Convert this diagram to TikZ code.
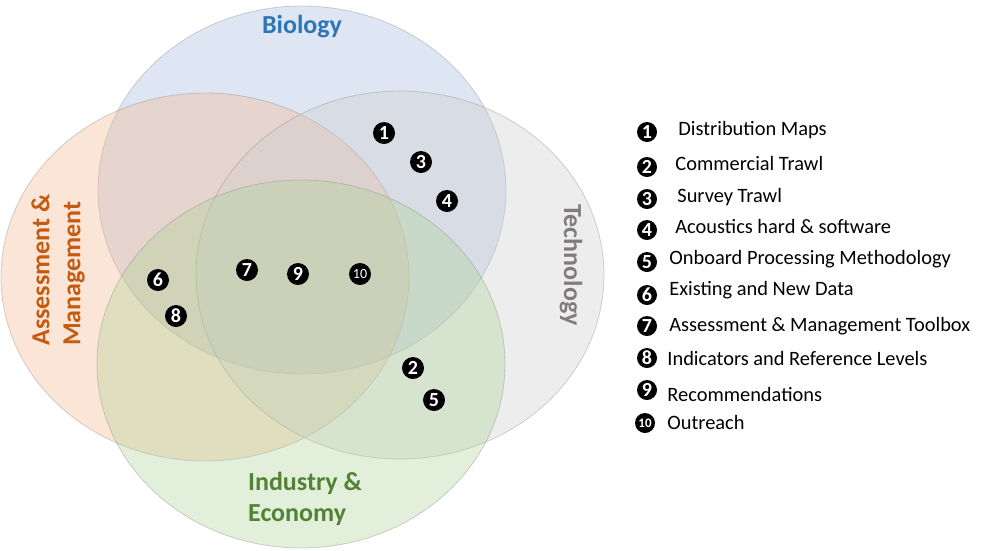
\documentclass[tikz,border=0pt]{standalone}
\usepackage{fontspec}
\setmainfont{Carlito}
\usepackage{tikz}
\usetikzlibrary{positioning, shapes.geometric}
\definecolor{BiologyBlue}{RGB}{46,117,182}
\definecolor{BiologyFill}{RGB}{161,184,221}
\definecolor{AssessOrange}{RGB}{197,90,17}
\definecolor{AssessFill}{RGB}{244,181,138}
\definecolor{TechGray}{RGB}{128,124,124}
\definecolor{TechFill}{RGB}{204,204,204}
\definecolor{IndustryGreen}{RGB}{84,130,53}
\definecolor{IndustryFill}{RGB}{172,209,149}

\begin{document}
\begin{tikzpicture}[
    x=1pt, y=-1pt,
    every node/.style={inner sep=0pt},
    set/.style={
        ellipse,
        minimum width=408pt,
        minimum height=368pt,
        draw=gray,
        draw opacity=0.35,
        line width=0.8pt,
        fill opacity=0.35
    },
    title/.style={font=\fontsize{26}{31}\selectfont\bfseries, align=left},
    num/.style={circle, fill=black, text=white, minimum size=22pt, font=\fontsize{20}{20}\selectfont\bfseries},
    key/.style={num, minimum size=20pt, font=\fontsize{20}{20}\selectfont\bfseries},
    item/.style={font=\fontsize{20.4}{24}\selectfont}
]
\useasboundingbox (0,0) rectangle (994,550);

% The four sets
\node[set, fill=BiologyFill] (bio) at (302,190) {};
\node[set, fill=AssessFill] (assess) at (205,277) {};
\node[set, fill=TechFill] (tech) at (400,275) {};
\node[set, fill=IndustryFill] (industry) at (301,364) {};

% Set titles
\node[title, text=BiologyBlue] (biotitle) [below=9pt of bio.north] {Biology};
\node[title, text=AssessOrange, rotate=90] (assesstitle) at (58,270) {Assessment \&\\Management};
\node[title, text=TechGray, rotate=-90] (techtitle) at (571,265) {Technology};
\node[title, text=IndustryGreen] (industrytitle) at (305,499) {Industry \&\\Economy};

% Numbers in the diagram
\node[num] (n1) at (384,133) {1};
\node[num] (n3) at (421,162) {3};
\node[num] (n4) at (447,201) {4};
\node[num] (n7) at (247,270) {7};
\node[num] (n9) at (298,274) {9};
\node[num, font=\fontsize{14}{14}\selectfont] (n10) at (360,274) {10};
\node[num] (n6) at (158,280) {6};
\node[num] (n8) at (176,316) {8};
\node[num] (n2) at (413,368) {2};
\node[num] (n5) at (434,400) {5};

% Legend
\node[key] (k1) at (647,132) {1};
\node[key] (k2) at (647,167) {2};
\node[key] (k3) at (647,199) {3};
\node[key] (k4) at (647,230) {4};
\node[key] (k5) at (647,262) {5};
\node[key] (k6) at (647,295) {6};
\node[key] (k7) at (647,326) {7};
\node[key] (k8) at (647,358) {8};
\node[key] (k9) at (647,390) {9};
\node[key, font=\fontsize{13}{13}\selectfont\bfseries] (k10) at (645,423) {10};

\node[item] (t1) [right=21pt of k1, yshift=2pt] {Distribution Maps};
\node[item] (t2) [right=18pt of k2, yshift=4pt] {Commercial Trawl};
\node[item] (t3) [right=20pt of k3, yshift=2pt] {Survey Trawl};
\node[item] (t4) [right=18pt of k4, yshift=4pt] {Acoustics hard \& software};
\node[item] (t5) [right=12pt of k5, yshift=3pt] {Onboard Processing Methodology};
\node[item] (t6) [right=12pt of k6, yshift=5pt] {Existing and New Data};
\node[item] (t7) [right=12pt of k7] {Assessment \& Management Toolbox};
\node[item] (t8) [right=10pt of k8] {Indicators and Reference Levels};
\node[item] (t9) [right=10pt of k9, yshift=-4pt] {Recommendations};
\node[item] (t10) [right=12pt of k10, yshift=1pt] {Outreach};
\end{tikzpicture}
\end{document}
